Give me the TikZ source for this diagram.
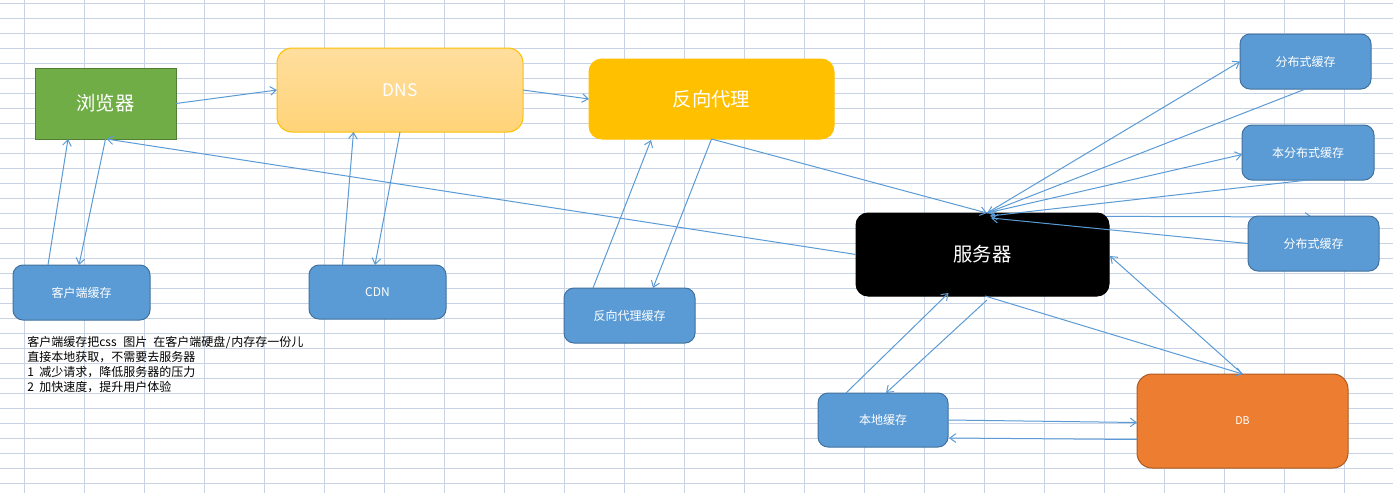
\documentclass[tikz,border=0pt]{standalone}
\usepackage{fontspec}
\setmainfont{Noto Sans CJK SC}
\usetikzlibrary{arrows.meta,calc}
\definecolor{gridc}{RGB}{200,211,230}
\definecolor{cgreen}{HTML}{70AD47}
\definecolor{cgreenb}{HTML}{507E32}
\definecolor{cgold}{HTML}{FFC000}
\definecolor{cdnst}{RGB}{255,222,158}
\definecolor{cdnsb}{RGB}{255,211,120}
\definecolor{cblue}{HTML}{5B9BD5}
\definecolor{cblueb}{HTML}{41719C}
\definecolor{corange}{HTML}{ED7D31}
\definecolor{corangeb}{HTML}{AE5A21}
\definecolor{cline}{HTML}{5B9BD5}
\newcommand{\hsp}{\hspace{4.5pt}}
\pgfdeclarelayer{gridlayer}
\pgfdeclarelayer{under}
\pgfsetlayers{gridlayer,under,main}
\begin{document}
\begin{tikzpicture}[x=0.75pt,y=-0.75pt,
  box/.style={draw, line width=0.75pt, inner sep=0pt, outer sep=0pt, text=white, align=center},
  bigtext/.style={font=\fontsize{14.5pt}{16pt}\selectfont},
  smalltext/.style={font=\fontsize{9pt}{11pt}\selectfont},
  bluebox/.style={box, smalltext, rounded corners=7.5pt, fill=cblue, draw=cblueb,
    minimum height=41.25pt},
  conn/.style={draw=cline, line width=0.75pt, -{Straight Barb[length=4.5pt,width=6.5pt]}},
  note/.style={anchor=base west, inner sep=0pt, text=black, font=\fontsize{9pt}{11pt}\selectfont},
]
\useasboundingbox (0,0) rectangle (1393,493);
\begin{pgfonlayer}{gridlayer}
  \fill[white] (0,0) rectangle (1393,493);
  \foreach \i in {0,...,22} \draw[gridc,line width=0.75pt] ({24.3+60*\i},0) -- ({24.3+60*\i},493);
  \foreach \j in {0,...,32} \draw[gridc,line width=0.75pt] (0,{3.3+15*\j}) -- (1393,{3.3+15*\j});
\end{pgfonlayer}

% nodes
\node[box, bigtext, fill=cgreen, draw=cgreenb, minimum width=105.75pt, minimum height=53.25pt] (brw) at (105.5,103.5) {浏览器};
\node[box, font=\fontsize{13pt}{15pt}\selectfont, top color=cdnst, bottom color=cdnsb, draw=cgold, rounded corners=11.25pt, minimum width=184.5pt, minimum height=63pt] (dns) at (400,90) {DNS};
\node[box, bigtext, fill=cgold, draw=cgold, rounded corners=9.75pt, minimum width=183.75pt, minimum height=60pt] (rp) at (711.5,99) {反向代理};
\node[bluebox, minimum width=102.75pt] (cc) at (81.5,292.5) {客户端缓存};
\node[bluebox, minimum width=102.75pt, minimum height=40.5pt] (cdn) at (377.5,292) {CDN};
\node[bluebox, minimum width=98.25pt] (rpc) at (629.5,315.5) {反向代理缓存};
\node[box, bigtext, fill=black, draw=black, rounded corners=9pt, minimum width=189.75pt, minimum height=62.25pt] (srv) at (982.5,254.5) {服务器};
\node[bluebox, minimum width=97.5pt, minimum height=40.5pt] (lc) at (883,420) {本地缓存};
\node[box, font=\fontsize{8pt}{10pt}\selectfont, fill=corange, draw=corangeb, rounded corners=11.25pt, minimum width=158.25pt, minimum height=70.5pt] (db) at (1242.5,421) {DB};
\node[bluebox, minimum width=98.25pt] (dc1) at (1305.5,61.5) {分布式缓存};
\node[bluebox, minimum width=99pt] (dc2) at (1308,152.5) {本分布式缓存};
\node[bluebox, minimum width=98.25pt] (dc3) at (1313.5,243.5) {分布式缓存};

% note text
\node[note] (n1) at (27,346.5) {客户端缓存把\makebox[13.5pt][l]{css}\hsp 图片\hsp 在客户端硬盘\makebox[4.5pt]{/}内存存一份儿};
\node[note] (n2) at (27,361.5) {直接本地获取，不需要去服务器};
\node[note] (n3) at (27,376.5) {\makebox[4.5pt][l]{1}\hsp 减少请求，降低服务器的压力};
\node[note] (n4) at (27,391.5) {\makebox[4.5pt][l]{2}\hsp 加快速度，提升用户体验};

% connectors
\draw[conn] (brw.east) -- (dns.west);
\draw[conn] (dns.east) -- (rp.west);
\draw[conn] ($(cc.north west)+(35,0)$) -- ($(brw.south west)+(33,0)$);
\draw[conn] (brw.south) -- ($(cc.north)+(-2.5,0)$);
\draw[conn] (srv.west) -- ($(brw.south)+(1,0)$);
\draw[conn] ($(cdn.north west)+(33.5,0)$) -- ($(dns.south west)+(76.5,0)$);
\draw[conn] (dns.south) -- ($(cdn.north)+(-2.5,0)$);
\draw[conn] ($(rpc.north west)+(29,0)$) -- ($(rp.south west)+(62,1)$);
\draw[conn] (rp.south) -- ($(rpc.north)+(23.5,0)$);
\draw[conn] (rp.south) -- ($(srv.north)+(4.5,0)$);
\draw[conn] ($(srv.north)+(4.5,0)$) -- (dc1.west);
\draw[conn] (dc1.south) -- ($(srv.north)+(4.5,0)$);
\draw[conn] ($(srv.north)+(4.5,0)$) -- ($(dc2.west)+(0,2)$);
\draw[conn] (dc2.south) -- ($(srv.north)+(7.5,3)$);
\begin{pgfonlayer}{under}
\draw[conn] ($(srv.north)+(8.5,3)$) -- ($(dc3.north)+(-1.5,1)$);
\end{pgfonlayer}
\draw[conn] (dc3.west) -- ($(srv.north)+(8.5,5)$);
\draw[conn] ($(lc.north west)+(28,0)$) -- ($(srv.south west)+(92.5,-3)$);
\draw[conn] ($(srv.south)+(4.5,4)$) -- ($(lc.north)+(3,0)$);
\draw[conn] ($(srv.south)+(2.5,0)$) -- (db.north);
\draw[conn] (db.north) -- ($(srv.east)+(1,1.5)$);
\draw[conn] (lc.east) -- ($(db.west)+(0,1.5)$);
\draw[conn] ($(db.west)+(0,18.5)$) -- ($(lc.east)+(1,18)$);
\end{tikzpicture}
\end{document}
